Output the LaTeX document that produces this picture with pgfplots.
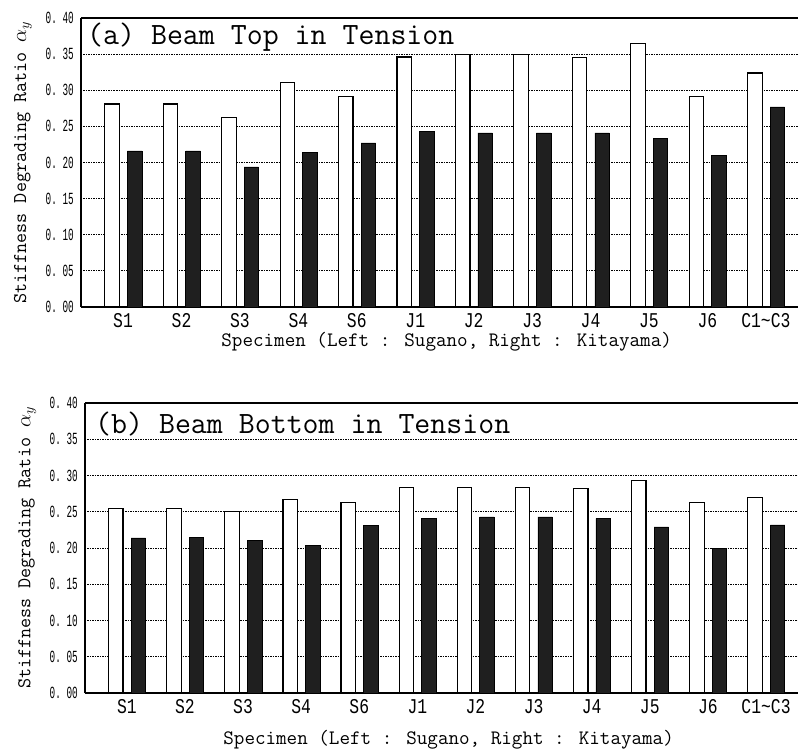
\documentclass[border=0pt]{standalone}
\usepackage{fontspec}
\setmainfont{Liberation Mono}
\newfontfamily\tickfont[FakeStretch=0.78]{Liberation Mono}
\newfontfamily\ytickfont[FakeStretch=0.55]{Liberation Mono}
\usepackage{pgfplots}
\pgfplotsset{compat=1.18}

\pgfplotstableread{
x a b
0  0.281 0.216
1  0.281 0.216
2  0.262 0.194
3  0.311 0.214
4  0.291 0.227
5  0.346 0.243
6  0.349 0.241
7  0.349 0.241
8  0.345 0.241
9  0.365 0.233
10 0.291 0.210
11 0.324 0.277
}\toptable

\pgfplotstableread{
x a b
0  0.254 0.214
1  0.255 0.215
2  0.250 0.210
3  0.267 0.204
4  0.263 0.231
5  0.283 0.241
6  0.284 0.243
7  0.284 0.243
8  0.282 0.241
9  0.293 0.229
10 0.263 0.200
11 0.270 0.232
}\bottable

\pgfplotsset{
  panel/.style={
    scale only axis,
    xmin=-0.72, xmax=11.55, ymin=0, ymax=0.40,
    axis x line*=box, axis y line*=left,
    axis line style={line width=1.3pt, black},
    xtick={0,1,2,3,4,5,6,7,8,9,10,11},
    xticklabels={S1,S2,S3,S4,S6,J1,J2,J3,J4,J5,J6,C1\textasciitilde C3},
    ytick={0,0.05,0.10,0.15,0.20,0.25,0.30,0.35,0.40},
    yticklabels={0.\ 00,0.\ 05,0.\ 10,0.\ 15,0.\ 20,0.\ 25,0.\ 30,0.\ 35,0.\ 40},
    xtick style={draw=none}, ytick style={draw=none},
    major tick length=0pt,
    ymajorgrids,
    grid style={black, line width=0.8pt, dash pattern=on 1.5pt off 1pt},
    xticklabel style={font=\tickfont\fontsize{21}{21}\selectfont, inner sep=0pt, anchor=north, yshift=-6pt},
    yticklabel style={font=\ytickfont\fontsize{17}{17}\selectfont, inner sep=0pt, anchor=east, xshift=-7pt},
    ylabel={Stiffness Degrading Ratio $\alpha_y$},
    ylabel style={font=\ttfamily\fontsize{19.5}{19.5}\selectfont, at={(axis description cs:-0.081,0.5)}, anchor=center},
    xlabel={Specimen (Left : Sugano, Right : Kitayama)},
    xlabel style={font=\ttfamily\fontsize{20.5}{20.5}\selectfont, at={(axis description cs:0.51,0)}, anchor=center},
  },
  wbar/.style={ybar, bar width=14.5pt, bar shift=-11pt, fill=white, draw=black, line width=1.2pt},
  kbar/.style={ybar, bar width=14.5pt, bar shift=11.5pt, fill=black!88, draw=black, line width=0.6pt},
}

\begin{document}
\begin{tikzpicture}
\path[use as bounding box] (0,0) rectangle (798pt,-751pt);

\begin{axis}[panel, width=717pt, height=289pt, at={(81pt,-18pt)}, anchor=north west,
  xlabel style={yshift=-35pt}]
  \addplot[wbar] table[x=x, y=a] {\toptable};
  \addplot[kbar] table[x=x, y=b] {\toptable};
  \node[anchor=base west, inner sep=0pt, font=\ttfamily\fontsize{31}{31}\selectfont]
    at (rel axis cs:0,1) [xshift=6pt, yshift=-27pt] {(a) Beam Top in Tension};
\end{axis}

\begin{axis}[panel, width=713pt, height=290pt, at={(85pt,-403pt)}, anchor=north west,
  xlabel style={yshift=-47pt}]
  \addplot[wbar] table[x=x, y=a] {\bottable};
  \addplot[kbar] table[x=x, y=b] {\bottable};
  \node[anchor=base west, inner sep=0pt, font=\ttfamily\fontsize{31}{31}\selectfont]
    at (rel axis cs:0,1) [xshift=10pt, yshift=-30pt] {(b) Beam Bottom in Tension};
\end{axis}
\end{tikzpicture}
\end{document}
